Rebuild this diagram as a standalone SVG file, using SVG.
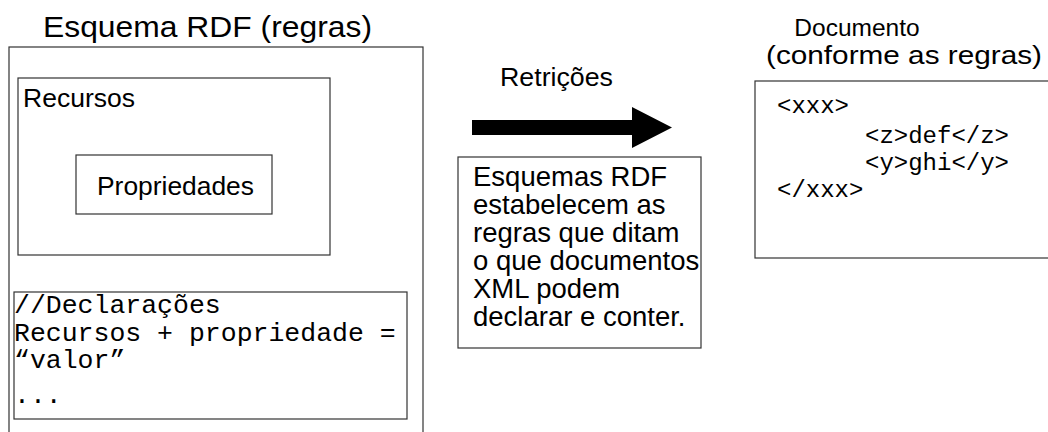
<svg xmlns="http://www.w3.org/2000/svg" width="1048" height="432" viewBox="0 0 1048 432">
<style>
.box{fill:#fff;stroke:#333;stroke-width:1.2}
.s{font-family:"Liberation Sans",Arial,sans-serif;fill:#000}
.m{font-family:"Liberation Mono","Courier New",monospace;fill:#000}
</style>
<rect width="1048" height="432" fill="#fff"/>
<g id="schema">
<text class="s" x="43" y="37" font-size="30" textLength="329" lengthAdjust="spacingAndGlyphs">Esquema RDF (regras)</text>
<rect class="box" x="9" y="47" width="414" height="400"/>
</g>
<g id="recursos">
<rect class="box" x="18" y="78" width="312" height="177"/>
<text class="s" x="23" y="107" font-size="25" textLength="112" lengthAdjust="spacingAndGlyphs">Recursos</text>
</g>
<g id="propriedades">
<rect class="box" x="76" y="155" width="196" height="59"/>
<text class="s" x="97" y="195" font-size="25" textLength="157" lengthAdjust="spacingAndGlyphs">Propriedades</text>
</g>
<g id="declaracoes">
<rect class="box" x="14" y="292" width="393" height="127"/>
<text class="m" font-size="26.5">
<tspan x="14" y="313">//Declarações</tspan>
<tspan x="14" y="341">Recursos + propriedade =</tspan>
<tspan x="14" y="368">“valor”</tspan>
<tspan x="14" y="403">...</tspan>
</text>
</g>
<g id="connectors">
<text class="s" x="500" y="86" font-size="25" textLength="113" lengthAdjust="spacingAndGlyphs">Retrições</text>
<polygon points="472,120 632,120 632,107 672,127.5 632,148 632,135 472,135" fill="#000"/>
</g>
<g id="nota">
<rect class="box" x="458" y="157" width="243" height="191"/>
<text class="s" font-size="27.5">
<tspan x="473" y="186">Esquemas RDF</tspan>
<tspan x="473" y="214">estabelecem as</tspan>
<tspan x="473" y="242">regras que ditam</tspan>
<tspan x="473" y="270">o que documentos</tspan>
<tspan x="473" y="298">XML podem</tspan>
<tspan x="473" y="326">declarar e conter.</tspan>
</text>
</g>
<g id="documento">
<text class="s" x="857" y="36" font-size="24.5" text-anchor="middle">Documento</text>
<text class="s" x="766" y="64" font-size="25.5" textLength="276" lengthAdjust="spacingAndGlyphs">(conforme as regras)</text>
<rect class="box" x="755" y="81" width="300" height="177"/>
<text class="m" font-size="24">
<tspan x="777" y="113">&lt;xxx&gt;</tspan>
<tspan x="865" y="143">&lt;z&gt;def&lt;/z&gt;</tspan>
<tspan x="865" y="170">&lt;y&gt;ghi&lt;/y&gt;</tspan>
<tspan x="777" y="197">&lt;/xxx&gt;</tspan>
</text>
</g>
</svg>
